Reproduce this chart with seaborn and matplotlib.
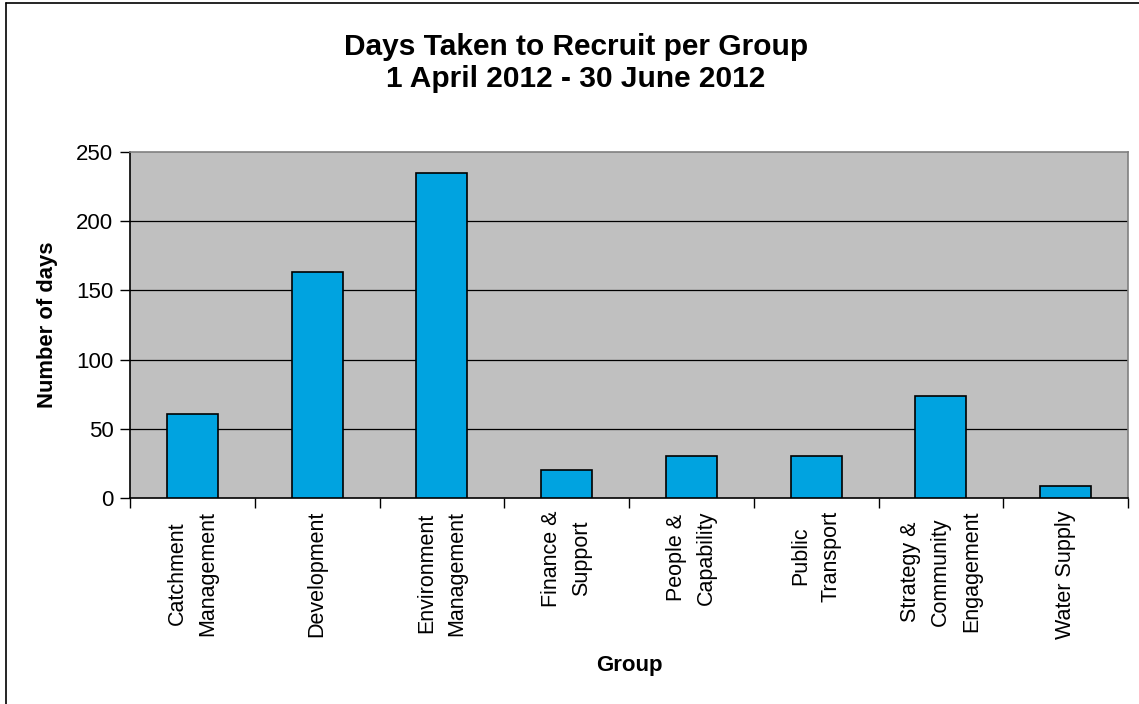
import matplotlib
matplotlib.use("Agg")
import matplotlib.pyplot as plt
from matplotlib.lines import Line2D
import seaborn as sns
import pandas as pd

# Recruitment data by group
groups = [
    "Catchment\nManagement",
    "Development",
    "Environment\nManagement",
    "Finance &\nSupport",
    "People &\nCapability",
    "Public\nTransport",
    "Strategy &\nCommunity\nEngagement",
    "Water Supply",
]
days = [61, 163, 235, 20, 30, 30, 74, 9]
y_ticks = [0, 50, 100, 150, 200, 250]

title_lines = ["Days Taken to Recruit per Group", "1 April 2012 - 30 June 2012"]

sns.set_theme(style="white")
plt.rcParams["font.family"] = ["Liberation Sans", "DejaVu Sans"]
plt.rcParams["text.color"] = "black"
plt.rcParams["axes.labelcolor"] = "black"
plt.rcParams["xtick.color"] = "black"
plt.rcParams["ytick.color"] = "black"

df = pd.DataFrame({"group": groups, "days": days})

fig = plt.figure(figsize=(11.39, 7.04), dpi=100)
fig.patch.set_facecolor("white")
ax = fig.add_axes([130 / 1139, 1 - 498 / 704, (1128 - 130) / 1139, (498 - 152) / 704])
ax.set_facecolor("#C0C0C0")

sns.barplot(data=df, x="group", y="days", color="#00A3E0", width=0.41,
            edgecolor="black", linewidth=1.2, saturation=1, ax=ax, zorder=3)

# Horizontal gridlines
ax.set_ylim(0, 250)
ax.set_yticks(y_ticks)
ax.set_yticklabels([str(v) for v in y_ticks])
for v in y_ticks[1:-1]:
    ax.axhline(v, color="black", lw=0.9, zorder=1)

# Category boundaries as ticks, labels at centers
n = len(groups)
ax.set_xlim(-0.5, n - 0.5)
ax.set_xticks([i - 0.5 for i in range(n + 1)])
ax.set_xticklabels([])
ax.set_xticks(list(range(n)), minor=True)
ax.set_xticklabels(groups, minor=True, rotation=90, ha="center", va="top",
                   multialignment="center", fontsize=15.5, linespacing=1.6)
ax.tick_params(axis="x", which="major", direction="out", length=7, width=1,
               color="black", bottom=True)
ax.tick_params(axis="x", which="minor", length=0, pad=9)
ax.tick_params(axis="y", direction="out", length=7, width=1, color="black",
               left=True, labelsize=16, pad=5)

for side in ["left", "bottom"]:
    ax.spines[side].set_color("black")
    ax.spines[side].set_linewidth(1.2)
for side in ["top", "right"]:
    ax.spines[side].set_color("#808080")
    ax.spines[side].set_linewidth(1.2)

ax.set_xlabel("Group", fontsize=16, fontweight="bold", labelpad=0)
ax.xaxis.set_label_coords(0.5, -0.455)
ax.set_ylabel("Number of days", fontsize=15.8, fontweight="bold")
ax.yaxis.set_label_coords(-0.072, 0.5)

fig.text(576 / 1139, 1 - 63 / 704, "\n".join(title_lines), ha="center", va="center",
         fontsize=21.5, fontweight="bold", linespacing=1.15)

# Chart frame
fig.add_artist(Line2D([6 / 1139, 6 / 1139], [0, 1 - 3 / 704], transform=fig.transFigure,
                      color="black", lw=1.2))
fig.add_artist(Line2D([6 / 1139, 1], [1 - 3 / 704, 1 - 3 / 704], transform=fig.transFigure,
                      color="black", lw=1.2))

fig.savefig("out.png", dpi=100)
